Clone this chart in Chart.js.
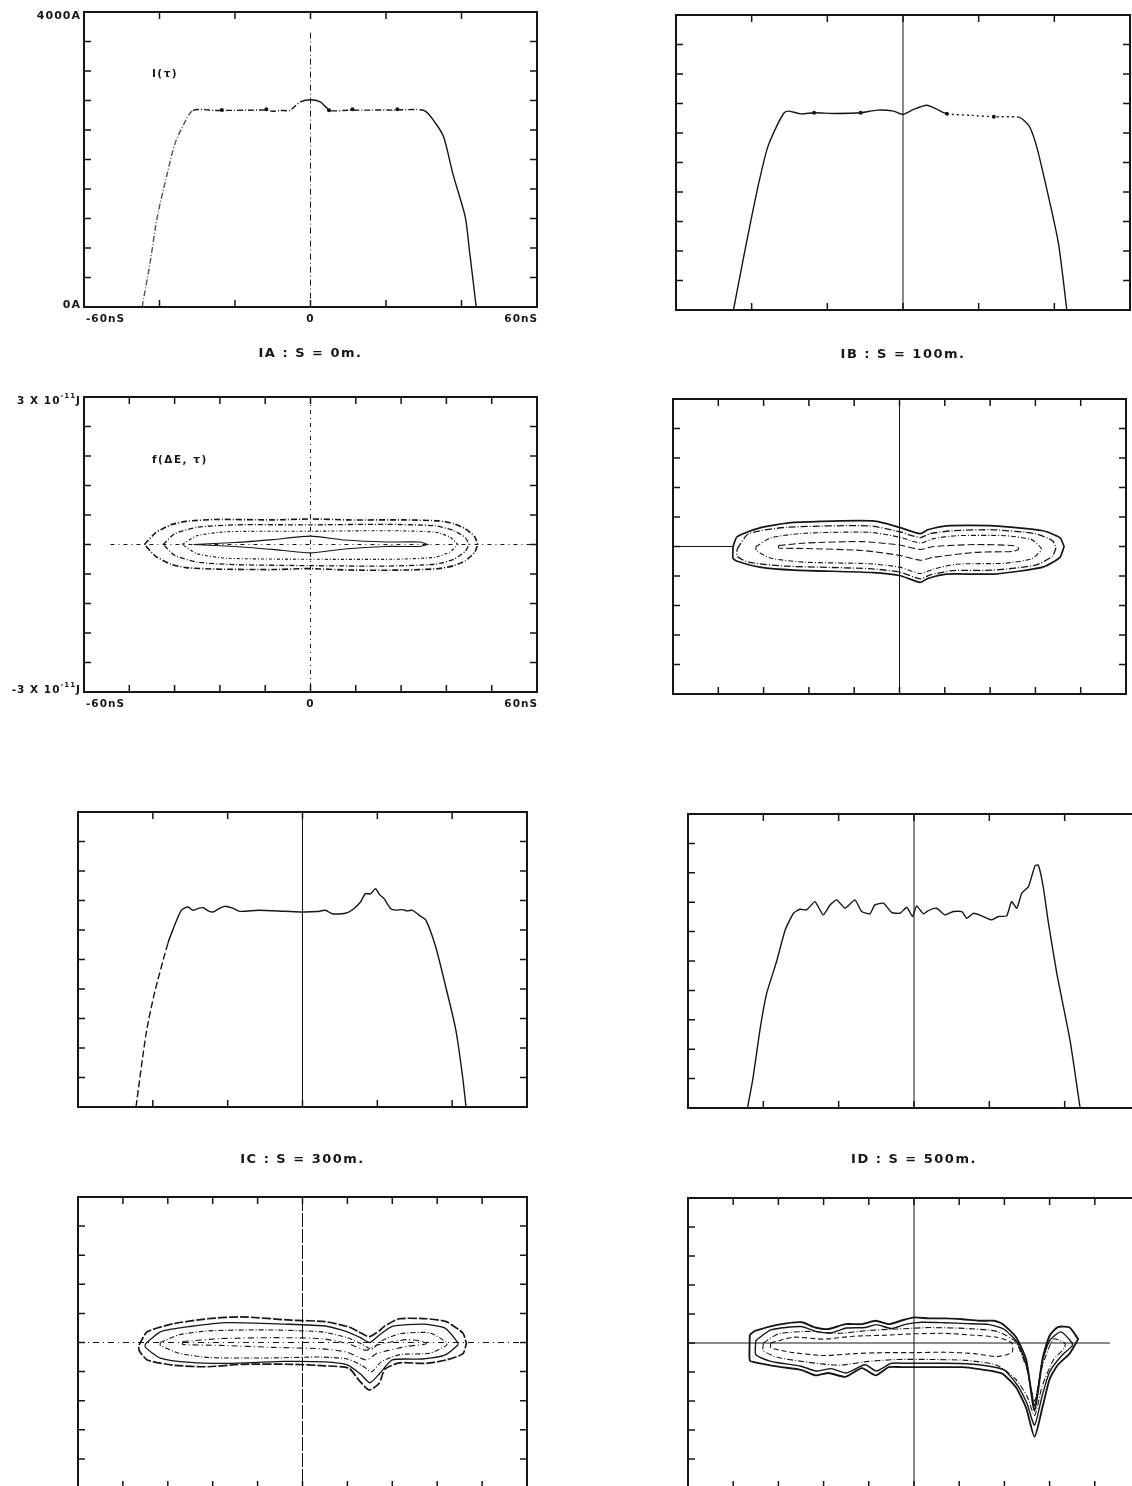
<!DOCTYPE html>
<html>
<head>
<meta charset="utf-8">
<script src="https://cdn.jsdelivr.net/npm/chart.js@4.4.1/dist/chart.umd.min.js"></script>
<style>
  html, body { margin: 0; padding: 0; background: #fff; }
  #page { position: relative; width: 1132px; height: 1486px; overflow: hidden; background: #fff; }
  canvas { position: absolute; }
</style>
</head>
<body>
<div id="page"></div>
<script>
// ---- ticks (ns, A, 1e-12 J) ----
const currentTicksX = [-40, -20, 0, 20, 40];
const currentTicksY = [400, 800, 1200, 1600, 2000, 2400, 2800, 3200, 3600];
const energyTicksX = [-48, -36, -24, -12, 0, 12, 24, 36, 48];
const energyTicksY = [-24, -18, -12, -6, 0, 6, 12, 18, 24];
const xTickValues = [-60, 0, 60];
const xTickLabels = ["-60nS", "0", "60nS"];

// ---- I(tau), S = 0m ----
const curveA_tau = [-44.6, -42.5, -40.6, -38, -35.9, -33.5, -31.1, -25, -18, -12, -10, -8, -5.5, -2.7, 0, 2.6, 4.5, 5.5, 10, 16, 22, 30.1, 32.9, 35.3, 37.7, 41.0, 42.1, 43.9];
const curveA_I = [0, 600, 1220, 1800, 2215, 2486, 2667, 2665, 2667, 2670, 2655, 2665, 2667, 2780, 2811, 2780, 2690, 2660, 2667, 2670, 2670, 2665, 2508, 2302, 1808, 1220, 768, 0];
const dotsA_tau = [-23.5, -11.7, 4.9, 11.1, 23.0];
const dotsA_I = [2670, 2680, 2667, 2680, 2680];

// ---- I(tau), S = 100m ----
const curveB_tau = [-44.8, -42.5, -40.2, -38, -35.8, -33.5, -31.4, -30.1, -27, -23.5, -18, -11.2, -6.8, -2.5, 0, 2.8, 6.3, 9.0, 11.6, 18, 24, 30.5, 32.2, 33.6, 35.4, 38.5, 41.1, 43.3];
const curveB_I = [0, 620, 1213, 1750, 2202, 2480, 2674, 2697, 2660, 2674, 2665, 2674, 2710, 2697, 2652, 2720, 2777, 2720, 2660, 2640, 2620, 2615, 2560, 2472, 2202, 1528, 900, 0];
const dotsB_tau = [-23.5, -11.2, 11.6, 24];
const dotsB_I = [2674, 2674, 2660, 2620];

// ---- I(tau), S = 300m ----
const curveC_tau = [-44.5, -41.8, -39.6, -36.0, -34.7, -32.4, -30.6, -29.3, -28, -26.6, -25.2, -23.9, -22.3, -20.8, -18.8, -16.7, -11.8, -5, 0, 4, 6.1, 7.9, 10.6, 12.2, 13.7, 15.5, 16.8, 18.2, 19.5, 20.6, 21.8, 23.6, 25, 26.7, 28, 29.4, 31.2, 33.0, 35.6, 38.3, 41.0, 42.8, 43.7];
const curveC_I = [0, 994, 1537, 2215, 2395, 2667, 2712, 2667, 2690, 2703, 2660, 2644, 2690, 2721, 2700, 2653, 2667, 2655, 2644, 2650, 2667, 2621, 2621, 2640, 2689, 2780, 2893, 2890, 2960, 2880, 2825, 2689, 2670, 2676, 2660, 2667, 2599, 2531, 2170, 1627, 1040, 407, 0];

// ---- I(tau), S = 500m ----
const curveD_tau = [-44.2, -42.7, -40.9, -39.1, -36.5, -34.2, -32.0, -30.3, -28.5, -26.3, -24.1, -22.3, -20.5, -18.3, -15.7, -13.9, -11.7, -10.4, -8.1, -5.9, -3.7, -1.9, -0.4, 0.7, 2.5, 3.8, 6.0, 8.2, 10.4, 12.7, 14.0, 15.8, 18.0, 20.6, 22.4, 24.6, 25.9, 27.3, 28.6, 30.4, 32.1, 33.0, 34.3, 35.7, 37.9, 41.4, 44.1];
const curveD_I = [0, 420, 1064, 1563, 1990, 2423, 2650, 2704, 2695, 2808, 2627, 2763, 2831, 2718, 2831, 2673, 2641, 2763, 2786, 2659, 2650, 2731, 2605, 2750, 2641, 2686, 2718, 2627, 2673, 2673, 2582, 2650, 2614, 2559, 2605, 2614, 2808, 2718, 2922, 3012, 3293, 3307, 3012, 2514, 1834, 929, 0];

// ---- f(dE, tau) contours, S = 0m (dE in 1e-12 J) ----
const contA1_tau = [-44, -41, -37, -33, -25, -10, 0, 10, 25, 34, 38, 41, 43.5, 44.3];
const contA1_up = [0, 2.4, 4.0, 4.7, 5.1, 5.0, 5.2, 5.0, 5.0, 4.8, 4.2, 3.2, 1.6, 0];
const contA1_low = [0, -2.4, -4.0, -4.7, -5.0, -5.1, -4.9, -5.2, -5.2, -4.9, -4.3, -3.3, -1.6, 0];
const contA2_tau = [-39, -36, -30, -20, 0, 20, 33, 38, 41, 42];
const contA2_up = [0, 2.2, 3.5, 4.0, 4.0, 4.1, 3.8, 2.8, 1.4, 0];
const contA2_low = [0, -2.2, -3.6, -4.1, -4.3, -4.4, -4.0, -3.0, -1.4, 0];
const contA3_tau = [-34, -30, -22, 0, 22, 33, 37, 39];
const contA3_up = [0, 1.8, 2.6, 2.7, 2.8, 2.5, 1.5, 0];
const contA3_low = [0, -1.9, -2.8, -3.0, -3.0, -2.6, -1.5, 0];
const contA4_tau = [-31, -20, -10, 0, 9, 20, 29, 31];
const contA4_up = [0, 0.4, 1.0, 1.7, 0.9, 0.5, 0.5, 0];
const contA4_low = [0, -0.4, -1.0, -1.7, -0.9, -0.4, -0.4, 0];

// ---- contours, S = 100m ----
const contB1_tau = [-44.1, -43, -37, -28, -7, 0, 5.5, 7.5, 12.5, 25, 38, 42.5, 43.6];
const contB1_up = [0, 2.0, 3.8, 4.9, 5.2, 3.9, 2.6, 3.4, 4.2, 4.2, 3.2, 1.8, 0];
const contB1_low = [-2.4, -3.0, -4.2, -4.8, -5.3, -5.9, -7.3, -6.5, -5.6, -5.6, -4.2, -2.2, 0];
const contB2_tau = [-43, -40, -30, -8, 0, 5.5, 8, 14, 25, 36, 40.5, 41.5];
const contB2_up = [-0.5, 2.6, 3.9, 4.2, 3.0, 1.8, 2.6, 3.2, 3.4, 2.6, 1.2, -0.2];
const contB2_low = [-2.0, -3.2, -4.0, -4.5, -5.2, -6.6, -5.8, -4.9, -4.8, -3.8, -2.0, -0.2];
const contB3_tau = [-38, -34, -25, -8, 0, 5.5, 9, 15, 28, 35, 37.5];
const contB3_up = [0, 1.8, 2.7, 2.9, 1.9, 0.7, 1.6, 2.2, 2.2, 1.4, -0.3];
const contB3_low = [-0.8, -2.4, -3.2, -3.5, -4.2, -5.5, -4.6, -3.6, -3.4, -2.5, -0.8];
const contB4_tau = [-32, -25, -10, 0, 5.5, 9, 20, 30, 31.5];
const contB4_up = [0.2, 0.7, 1.0, 0.3, -0.6, 0.0, 0.4, 0.2, -0.3];
const contB4_low = [-0.3, -0.4, -0.8, -1.8, -2.8, -2.2, -1.2, -1.0, -0.6];

// ---- contours, S = 300m ----
const contC1_tau = [-43.7, -41.5, -34.3, -25.3, -16.3, -3, 6, 12.4, 15, 17.8, 20.5, 22, 25.9, 33.1, 38.4, 42.9, 43.8];
const contC1_up = [-0.5, 2.2, 3.9, 4.9, 5.3, 4.6, 4.3, 3.2, 2.2, 1.2, 2.4, 3.4, 4.9, 4.9, 4.3, 1.9, -0.2];
const contC1_low = [-1.6, -3.6, -4.7, -5.0, -4.5, -4.5, -4.8, -5.3, -7.7, -9.8, -8.4, -5.5, -4.2, -4.3, -3.6, -2.3, -0.2];
const contC2_tau = [-42, -38, -30, -20, -5, 6, 12, 15.5, 18, 20.5, 24, 32, 38, 41.5];
const contC2_up = [-0.3, 2.2, 3.3, 4.1, 3.8, 3.4, 2.2, 1.0, 0.0, 1.5, 3.3, 3.8, 3.0, 0];
const contC2_low = [-1.0, -3.2, -4.1, -4.3, -3.9, -4.0, -4.6, -6.5, -8.3, -6.5, -3.6, -3.4, -2.6, -0.5];
const contC3_tau = [-38, -33, -25, -10, 5, 12, 16, 18.5, 21, 26, 34, 38.5];
const contC3_up = [0, 1.6, 2.4, 2.6, 2.2, 1.0, -0.4, -1.4, 0.3, 1.8, 2.0, 0];
const contC3_low = [-0.6, -2.2, -3.1, -3.2, -3.0, -3.4, -4.8, -6.0, -4.0, -2.5, -2.2, -0.6];
const contC4_tau = [-32, -22, -8, 5, 12, 17, 20, 28, 33];
const contC4_up = [0.2, 0.8, 1.0, 0.8, -0.2, -1.6, -0.5, 0.6, 0.1];
const contC4_low = [-0.4, -0.6, -1.0, -1.3, -2.0, -3.6, -2.2, -0.8, -0.3];

// ---- contours, S = 500m ----
const contD1_tau = [-43.6, -42.2, -36, -29.8, -26.2, -22.7, -18.2, -13.8, -10.2, -6.7, -3.1, 0, 4, 8.4, 12.9, 17.3, 21.3, 23.6, 27.1, 29.8, 32, 34.2, 36.0, 38.2, 41.3, 43.6];
const contD1_up = [1.7, 2.5, 3.8, 4.3, 3.2, 2.9, 3.9, 3.9, 4.6, 3.9, 4.7, 5.3, 5.1, 5.1, 4.9, 4.6, 4.6, 3.9, 1.2, -3.5, -14, -3.0, 1.5, 3.3, 3.2, 0.8];
const contD1_low = [-3.6, -4.0, -4.9, -5.6, -6.7, -6.2, -7.0, -5.2, -6.7, -5.0, -5.0, -5.0, -5.0, -5.0, -5.0, -5.4, -5.9, -6.4, -9.2, -13.5, -19.4, -13, -7.5, -4.5, -2.2, 0.8];
const contD2_tau = [-42, -38, -30, -26, -22, -18, -13, -10, -6, -2, 2, 8, 14, 20, 24, 27.5, 30, 32, 34, 36, 39, 42];
const contD2_up = [0.5, 2.7, 3.4, 2.4, 2.1, 3.1, 3.2, 3.8, 3.0, 3.9, 4.3, 4.2, 4.0, 3.8, 2.8, 0, -5, -13, -4, 0.5, 2.3, 0];
const contD2_low = [-2.4, -3.8, -4.8, -5.8, -5.3, -6.2, -4.5, -5.8, -4.2, -4.2, -4.2, -4.2, -4.3, -4.8, -5.6, -8.8, -12.5, -17, -11, -6, -2.8, -0.6];
const contD3_tau = [-40, -36, -28, -20, -12, -4, 4, 14, 22, 27, 30, 32, 34, 37, 40];
const contD3_up = [0, 1.9, 2.4, 2.0, 2.6, 2.9, 3.2, 3.0, 2.4, 0.2, -5.5, -12, -5, 0.8, 0];
const contD3_low = [-1.6, -3.0, -4.0, -4.6, -3.8, -3.4, -3.4, -3.6, -4.6, -7.5, -11, -15, -9, -3.5, -1.0];
const contD4_tau = [-38, -32, -24, -16, -8, 0, 8, 16, 22, 26];
const contD4_up = [0, 1.2, 0.8, 1.4, 1.6, 1.9, 2.0, 1.6, 1.2, 0];
const contD4_low = [-1.0, -2.0, -2.6, -2.2, -2.0, -2.0, -1.9, -2.2, -2.8, -2.0];

const INK = "#161616";
const FONT = "'DejaVu Sans', sans-serif";

function toPoints(tau, vals) {
    return tau.map((t, i) => ({ x: t, y: vals[i] }));
}

// closed contour: upper edge left->right, lower edge right->left
function toLoop(tau, up, low) {
    const pts = tau.map((t, i) => ({ x: t, y: up[i] }));
    for (let i = tau.length - 1; i >= 0; i--) pts.push({ x: tau[i], y: low[i] });
    pts.push(pts[0]);
    return pts;
}

// rich text: pieces [text, sizePx, raise], right aligned
function drawRich(ctx, pieces, xRight, yMid) {
    ctx.letterSpacing = "1px";
    let w = 0;
    pieces.forEach((p) => {
        ctx.font = "bold " + p[1] + "px " + FONT;
        w += ctx.measureText(p[0]).width;
    });
    let x = xRight - w;
    pieces.forEach((p) => {
        ctx.font = "bold " + p[1] + "px " + FONT;
        ctx.textAlign = "left";
        ctx.textBaseline = "middle";
        ctx.fillText(p[0], x, yMid - (p[2] || 0));
        x += ctx.measureText(p[0]).width;
    });
    ctx.letterSpacing = "0px";
}

const framePlugin = {
    id: "frame",
    beforeDatasetsDraw(chart, args, opts) {
        const { ctx, chartArea: a } = chart;
        const x = chart.scales.x, y = chart.scales.y;
        ctx.save();
        ctx.strokeStyle = INK;
        ctx.lineWidth = 1;
        const x0 = x.getPixelForValue(0);
        ctx.setLineDash(opts.vDash || []);
        ctx.beginPath();
        ctx.moveTo(x0, opts.vFrom !== undefined ? y.getPixelForValue(opts.vFrom) : a.top);
        ctx.lineTo(x0, a.bottom);
        ctx.stroke();
        if (opts.hZero) {
            const y0 = y.getPixelForValue(0);
            ctx.setLineDash(opts.hZero.dash || []);
            ctx.beginPath();
            ctx.moveTo(x.getPixelForValue(opts.hZero.from), y0);
            ctx.lineTo(x.getPixelForValue(opts.hZero.to), y0);
            ctx.stroke();
        }
        ctx.restore();
    },
    afterDraw(chart, args, opts) {
        const { ctx, chartArea: a } = chart;
        const x = chart.scales.x, y = chart.scales.y;
        const len = 7;
        ctx.save();
        ctx.strokeStyle = INK;
        ctx.fillStyle = INK;
        ctx.setLineDash([]);
        // inner ticks on all four sides
        ctx.lineWidth = 1.5;
        ctx.beginPath();
        opts.ticksX.forEach((v) => {
            const px = x.getPixelForValue(v);
            ctx.moveTo(px, a.bottom); ctx.lineTo(px, a.bottom - len);
            ctx.moveTo(px, a.top); ctx.lineTo(px, a.top + len);
        });
        opts.ticksY.forEach((v) => {
            const py = y.getPixelForValue(v);
            ctx.moveTo(a.left, py); ctx.lineTo(a.left + len, py);
            ctx.moveTo(a.right, py); ctx.lineTo(a.right - len, py);
        });
        ctx.stroke();
        // box
        ctx.lineWidth = 2;
        ctx.strokeRect(a.left, a.top, a.right - a.left, a.bottom - a.top);

        // axis labels
        if (opts.xLabels) {
            ctx.font = "bold 10.5px " + FONT;
            ctx.letterSpacing = "1px";
            ctx.textBaseline = "middle";
            xTickValues.forEach((v, i) => {
                const px = x.getPixelForValue(v);
                ctx.textAlign = i === 0 ? "left" : i === 2 ? "right" : "center";
                ctx.fillText(xTickLabels[i], px + (i === 0 ? 2 : i === 2 ? 1 : 0), a.bottom + 12);
            });
            ctx.letterSpacing = "0px";
        }
        if (opts.yTop) drawRich(ctx, opts.yTop, a.left - 3, a.top + 4);
        if (opts.yBottom) drawRich(ctx, opts.yBottom, a.left - 3, a.bottom - 2);
        if (opts.inner) {
            ctx.font = "bold 10.5px " + FONT;
            ctx.letterSpacing = "1.5px";
            ctx.textAlign = "left";
            ctx.textBaseline = "middle";
            ctx.fillText(opts.inner.text, x.getPixelForValue(opts.inner.x), y.getPixelForValue(opts.inner.y));
            ctx.letterSpacing = "0px";
        }
        if (opts.caption) {
            ctx.font = "bold 13px " + FONT;
            ctx.letterSpacing = "1.5px";
            ctx.textAlign = "center";
            ctx.textBaseline = "middle";
            ctx.fillText(opts.caption, (a.left + a.right) / 2, a.bottom + opts.captionGap);
            ctx.letterSpacing = "0px";
        }
        ctx.restore();
    },
};

const PAD = { left: 90, top: 20, right: 20, bottom: 70 };

function makePanel(box, yMin, yMax, datasets, frameOpts) {
    const canvas = document.createElement("canvas");
    const w = box.R - box.L + PAD.left + PAD.right;
    const h = box.B - box.T + PAD.top + PAD.bottom;
    canvas.width = w;
    canvas.height = h;
    canvas.style.left = box.L - PAD.left + "px";
    canvas.style.top = box.T - PAD.top + "px";
    canvas.style.width = w + "px";
    canvas.style.height = h + "px";
    document.getElementById("page").appendChild(canvas);
    return new Chart(canvas, {
        type: "scatter",
        data: { datasets: datasets },
        options: {
            responsive: false,
            animation: false,
            events: [],
            layout: { padding: PAD },
            scales: {
                x: { type: "linear", min: -60, max: 60, display: false },
                y: { type: "linear", min: yMin, max: yMax, display: false },
            },
            plugins: { legend: { display: false }, tooltip: { enabled: false }, frame: frameOpts },
        },
        plugins: [framePlugin],
    });
}

function curve(tau, vals, extra) {
    return Object.assign({
        data: toPoints(tau, vals),
        showLine: true,
        borderColor: INK,
        borderWidth: 1.4,
        pointRadius: 0,
        tension: 0.25,
    }, extra || {});
}

function dots(tau, vals) {
    return {
        data: toPoints(tau, vals),
        showLine: false,
        pointRadius: 2,
        pointBackgroundColor: INK,
        pointBorderWidth: 0,
    };
}

function contour(tau, up, low, width, dash) {
    return {
        data: toLoop(tau, up, low),
        showLine: true,
        borderColor: INK,
        borderWidth: width,
        borderDash: dash,
        pointRadius: 0,
        tension: 0.2,
    };
}

const currentLabelsTop = [["4000A", 11, 0]];
const currentLabelsBottom = [["0A", 11, 0]];
const energyLabelsTop = [["3 X 10", 10.5, 0], ["-11", 7, 5], ["J", 10.5, 0]];
const energyLabelsBottom = [["-3 X 10", 10.5, 0], ["-11", 7, 5], ["J", 10.5, 0]];

// IA
makePanel({ L: 84, T: 12, R: 537, B: 307 }, 0, 4000, [
    curve(curveA_tau, curveA_I, {
        segment: {
            borderDash: (c) => {
                const xm = (c.p0.parsed.x + c.p1.parsed.x) / 2;
                return (xm < -4 || (xm > 5 && xm < 30)) ? [6, 2, 1, 2] : undefined;
            },
            borderColor: (c) => (c.p0.parsed.x < -32 ? "#555" : undefined),
        },
    }),
    dots(dotsA_tau, dotsA_I),
], {
    ticksX: currentTicksX, ticksY: currentTicksY, vDash: [6, 3, 1, 3], vFrom: 3720,
    xLabels: true, yTop: currentLabelsTop, yBottom: currentLabelsBottom,
    inner: { text: "I(τ)", x: -42, y: 3150 }, caption: "IA : S = 0m.", captionGap: 47,
});

// IB
makePanel({ L: 676, T: 15, R: 1130, B: 310 }, 0, 4000, [
    curve(curveB_tau, curveB_I, {
        segment: {
            borderDash: (c) => {
                const xm = (c.p0.parsed.x + c.p1.parsed.x) / 2;
                return (xm > 12 && xm < 30) ? [2, 3] : undefined;
            },
        },
    }),
    dots(dotsB_tau, dotsB_I),
], {
    ticksX: currentTicksX, ticksY: currentTicksY,
    caption: "IB : S = 100m.", captionGap: 45,
});

// IA energy
makePanel({ L: 84, T: 397, R: 537, B: 692 }, -30, 30, [
    contour(contA1_tau, contA1_up, contA1_low, 1.6, [6, 2, 1, 2]),
    contour(contA2_tau, contA2_up, contA2_low, 1.3, [5, 2, 1, 2]),
    contour(contA3_tau, contA3_up, contA3_low, 1.1, [3, 2, 1, 2]),
    contour(contA4_tau, contA4_up, contA4_low, 1.1, []),
], {
    ticksX: energyTicksX, ticksY: energyTicksY, vDash: [4, 4, 1, 4],
    hZero: { from: -53, to: 60, dash: [4, 4, 1, 4] },
    xLabels: true, yTop: energyLabelsTop, yBottom: energyLabelsBottom,
    inner: { text: "f(ΔE, τ)", x: -42, y: 17.2 },
});

// IB energy
makePanel({ L: 673, T: 399, R: 1126, B: 694 }, -30, 30, [
    contour(contB1_tau, contB1_up, contB1_low, 1.7, []),
    contour(contB2_tau, contB2_up, contB2_low, 1.3, [7, 2, 1, 2]),
    contour(contB3_tau, contB3_up, contB3_low, 1.1, [5, 2, 1, 2]),
    contour(contB4_tau, contB4_up, contB4_low, 1.1, [7, 3]),
], {
    ticksX: energyTicksX, ticksY: energyTicksY,
    hZero: { from: -60, to: -44, dash: [] },
});

// IC
makePanel({ L: 78, T: 812, R: 527, B: 1107 }, 0, 4000, [
    curve(curveC_tau, curveC_I, {
        segment: {
            borderDash: (c) => ((c.p0.parsed.x + c.p1.parsed.x) / 2 < -36 ? [7, 3] : undefined),
        },
    }),
], {
    ticksX: currentTicksX, ticksY: currentTicksY,
    caption: "IC : S = 300m.", captionGap: 53,
});

// ID
makePanel({ L: 688, T: 814, R: 1140, B: 1108 }, 0, 4000, [
    curve(curveD_tau, curveD_I, { tension: 0.15 }),
], {
    ticksX: currentTicksX, ticksY: currentTicksY,
    caption: "ID : S = 500m.", captionGap: 52,
});

// IC energy
makePanel({ L: 78, T: 1197, R: 527, B: 1488 }, -30, 30, [
    contour(contC1_tau, contC1_up, contC1_low, 1.7, [9, 2]),
    contour(contC2_tau, contC2_up, contC2_low, 1.3, []),
    contour(contC3_tau, contC3_up, contC3_low, 1.1, [5, 2, 1, 2]),
    contour(contC4_tau, contC4_up, contC4_low, 1.1, [6, 3, 1, 3]),
], {
    ticksX: energyTicksX, ticksY: energyTicksY, vDash: [14, 2],
    hZero: { from: -60, to: 60, dash: [6, 4, 1, 4] },
});

// ID energy
makePanel({ L: 688, T: 1198, R: 1140, B: 1488 }, -30, 30, [
    contour(contD1_tau, contD1_up, contD1_low, 1.9, []),
    contour(contD2_tau, contD2_up, contD2_low, 1.4, []),
    contour(contD3_tau, contD3_up, contD3_low, 1.1, [6, 2, 1, 2]),
    contour(contD4_tau, contD4_up, contD4_low, 1.1, [5, 3]),
], {
    ticksX: energyTicksX, ticksY: energyTicksY,
    hZero: { from: -60, to: 52, dash: [] },
});
</script>
</body>
</html>
